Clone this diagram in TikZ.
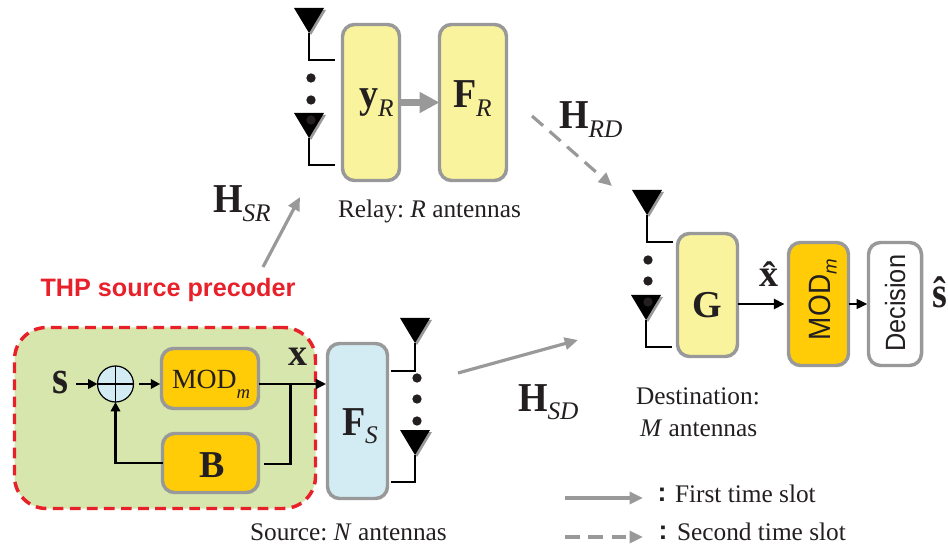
\documentclass[tikz,border=0pt]{standalone}
\usepackage{fontspec}
\setmainfont{Liberation Serif}
\setsansfont{Liberation Sans}
\frenchspacing
\usetikzlibrary{arrows.meta,calc}
\definecolor{gborder}{HTML}{999999}
\definecolor{yel}{HTML}{F8F39C}
\definecolor{org}{HTML}{FFCC07}
\definecolor{blu}{HTML}{D3ECF3}
\definecolor{grn}{HTML}{D6E6AC}
\definecolor{thpred}{HTML}{E8202A}
\definecolor{ink}{HTML}{231F20}
\newcommand{\fs}[1]{\fontsize{#1}{#1}\selectfont}
\newcommand{\sym}[2]{\fs{28.5}\scalebox{1}[1.08]{\textbf{#1}}\raisebox{-6.5pt}{\fs{19}\textit{#2}}}
\newcommand{\antennaA}[3]{%
  \fill[gborder] (#2-13,#3+2) -- (#2+17,#3+2) -- (#2+2,#3+27) -- cycle;
  \fill[black] (#2-15,#3) -- (#2+15,#3) -- (#2,#3+25) -- cycle;
  \coordinate (#1) at (#2,#3+25);}
\tikzset{
  x=0.75pt,y=-0.75pt,
  blockbox/.style={draw=gborder,line width=2.6pt,rounded corners=9pt,inner sep=0pt,outer sep=0pt,anchor=north west},
  lbl/.style={inner sep=0pt,outer sep=0pt,anchor=base west,text=ink},
  feed/.style={line width=2.2pt,black,-{Triangle[length=8pt,width=7.5pt]}},
  feedsmall/.style={line width=2.2pt,black,-{Triangle[length=7pt,width=7pt]}},
  thin wire/.style={line width=1pt,black},
  grayarrow/.style={gborder,line width=2.4pt,-{Triangle[length=10pt,width=9pt]}},
  grayd/.style={gborder,line width=2.4pt,dash pattern=on 11pt off 6.5pt,-{Triangle[length=10pt,width=9pt]}},
  dotm/.style={circle,fill=ink,inner sep=0pt,minimum size=7pt},
  captext/.style={lbl,font=\fs{19}},
}
\begin{document}
\begin{tikzpicture}
\useasboundingbox (0,0) rectangle (948,548);

% THP group
\node[draw=thpred,fill=grn,line width=2.6pt,dash pattern=on 8pt off 4.8pt,rounded corners=24pt,
  minimum width=225.75pt,minimum height=135.75pt,inner sep=0pt,outer sep=0pt,anchor=north west] (thp) at (14.5,327.5) {};
\node[text=thpred,inner sep=0pt,font=\sffamily\bfseries\fs{18.9}] (thplabel) at (168,290) {THP source precoder};

% Blocks
\node[blockbox,fill=yel,minimum width=42.75pt,minimum height=117pt] (yR) at (342.5,24.5) {};
\node[blockbox,fill=yel,minimum width=50.25pt,minimum height=117pt] (FR) at (439.5,24.5) {};
\node[blockbox,fill=org,minimum width=72.75pt,minimum height=45pt] (mod) at (161.5,348.5) {};
\node[blockbox,fill=org,minimum width=72pt,minimum height=44.25pt] (B) at (162.5,433.5) {};
\node[blockbox,fill=blu,minimum width=45pt,minimum height=116.25pt] (FS) at (327.5,343.5) {};
\node[blockbox,fill=yel,minimum width=45pt,minimum height=92.25pt] (G) at (677.5,233.5) {};
\node[blockbox,fill=org,minimum width=45pt,minimum height=92.25pt] (mod2) at (788.5,242.5) {};
\node[blockbox,fill=white,minimum width=39.75pt,minimum height=92.25pt] (dec) at (868.5,242.5) {};

% Block labels
\node[lbl] (yRl) at (359,108) {\sym{y}{R}};
\node[lbl] (FRl) at (453,108) {\sym{F}{R}};
\node[lbl] (FSl) at (342,435) {\sym{F}{S}};
\node[lbl] (modl) at (172,388) {\fs{20.8}MOD\raisebox{-7.5pt}{\fs{14}\textit{m}}};
\node[lbl] (Bl) at (199,477) {\fs{28.5}\textbf{B}};
\node[lbl] (Gl) at (692,318) {\fs{28.5}\textbf{G}};
\node[lbl,rotate=90] (mod2l) at (830,340) {\sffamily\fs{21}\scalebox{1}[1.1]{MOD}\raisebox{-5pt}{\fs{14}\textit{m}}};
\node[lbl,rotate=90] (decl) at (905,352) {\sffamily\fs{19}\scalebox{1}[1.1]{Decision}};

% Adder
\node[circle,draw=black,fill=blu,line width=0.9pt,minimum size=27pt,inner sep=0pt,outer sep=0pt] (add) at (115.5,384) {};
\draw[black,line width=0.9pt] (add.north)--(add.south) (add.west)--(add.east);

% Source block signals
\node[lbl] (s) at (52,393) {\fs{28.5}\bfseries\scalebox{1.08}[1.25]{s}};
\node[lbl] (x) at (288,365) {\fs{28.5}\bfseries x};
\coordinate (sgo) at (76,384);
\coordinate (addgo) at (139,384);
\coordinate (jn) at (290.5,384);
\coordinate (bout) at (264,464);
\draw[feedsmall] (sgo) -- (add.west);
\draw[feedsmall,shorten >=1pt] (addgo) -- (mod.west|-addgo);
\draw[feed,shorten >=1pt] (mod.east|-jn) -- (FS.west|-jn);
\draw[line width=2.2pt,black] (bout) -| (jn);
\draw[feedsmall] (B.west) -| (add.south);

% Relay
\antennaA{r1}{309}{8}
\antennaA{r2}{309}{113}
\coordinate (r1e) at (335,60);
\coordinate (r2e) at (335,165);
\draw[thin wire] (r1) |- (r1e);
\draw[thin wire] (r2) |- (r2e);
\node[dotm] (rd1) at (311,78) {};
\node[dotm] (rd2) at (311,100) {};
\node[dotm] (rd3) at (311,120) {};
\coordinate (ymid) at (0,102.5);
\draw[gborder,line width=5pt,-{Triangle[length=15pt,width=15pt]}] (yR.east|-ymid) -- (FR.west|-ymid);
\node[captext] (relay) at (338,218) {Relay: \textit{R} antennas};

% Source antennas
\antennaA{s1}{415}{318}
\antennaA{s2}{415}{430}
\coordinate (s1e) at (391,371);
\coordinate (s2e) at (391,482);
\draw[thin wire] (s1) |- (s1e);
\draw[thin wire] (s2) |- (s2e);
\node[dotm] (sd1) at (417,378) {};
\node[dotm] (sd2) at (417,399) {};
\node[dotm] (sd3) at (417,421) {};
\node[captext] (source) at (250,540) {Source: \textit{N} antennas};

% Destination
\antennaA{d1}{647}{190}
\antennaA{d2}{646}{295}
\coordinate (d1e) at (673,242);
\coordinate (d2e) at (672,347);
\draw[thin wire] (d1) |- (d1e);
\draw[thin wire] (d2) |- (d2e);
\node[dotm] (dd1) at (648,260) {};
\node[dotm] (dd2) at (648,281) {};
\node[dotm] (dd3) at (648,302) {};
\node[captext] (dest) at (636,404) {Destination:};
\node[captext] (dest2) at (640,436) {\textit{M} antennas};
\coordinate (gmid) at (0,304);
\draw[feed,shorten >=3pt] (G.east|-gmid) -- (mod2.west|-gmid);
\draw[line width=1.2pt,black,-{Triangle[length=8pt,width=7.5pt]},shorten >=1pt] (mod2.east|-gmid) -- (dec.west|-gmid);
\node[lbl] (xhat) at (759,287) {\fs{28.5}\bfseries\^{x}};
\node[lbl] (shat) at (932.5,308) {\fs{28.5}\bfseries\scalebox{1}[1.15]{\^{s}}};

% Channels
\coordinate (a1) at (263,267);
\coordinate (a2) at (300,197);
\draw[grayarrow] (a1) -- (a2);
\coordinate (b1) at (532,116);
\coordinate (b2) at (612,186);
\draw[grayd] (b1) -- (b2);
\coordinate (c1) at (458,373);
\coordinate (c2) at (578,340);
\draw[grayarrow] (c1) -- (c2);
\node[lbl] (HSR) at (213,213) {\sym{H}{SR}};
\node[lbl] (HRD) at (559,129) {\sym{H}{RD}};
\node[lbl] (HSD) at (518,411) {\sym{H}{SD}};

% Legend
\coordinate (l1) at (565,498);
\coordinate (l2) at (643,498);
\coordinate (l3) at (565,537);
\coordinate (l4) at (643,537);
\draw[grayarrow] (l1) -- (l2);
\draw[grayd] (l3) -- (l4);
\node[inner sep=0pt,text=ink,font=\sffamily\bfseries\fs{20}] (colonA) at (662,495) {:};
\node[inner sep=0pt,text=ink,font=\sffamily\bfseries\fs{20}] (colonB) at (663,533) {:};
\node[captext] (first) at (675,502) {First time slot};
\node[captext] (second) at (677,540) {Second time slot};
\end{tikzpicture}
\end{document}
